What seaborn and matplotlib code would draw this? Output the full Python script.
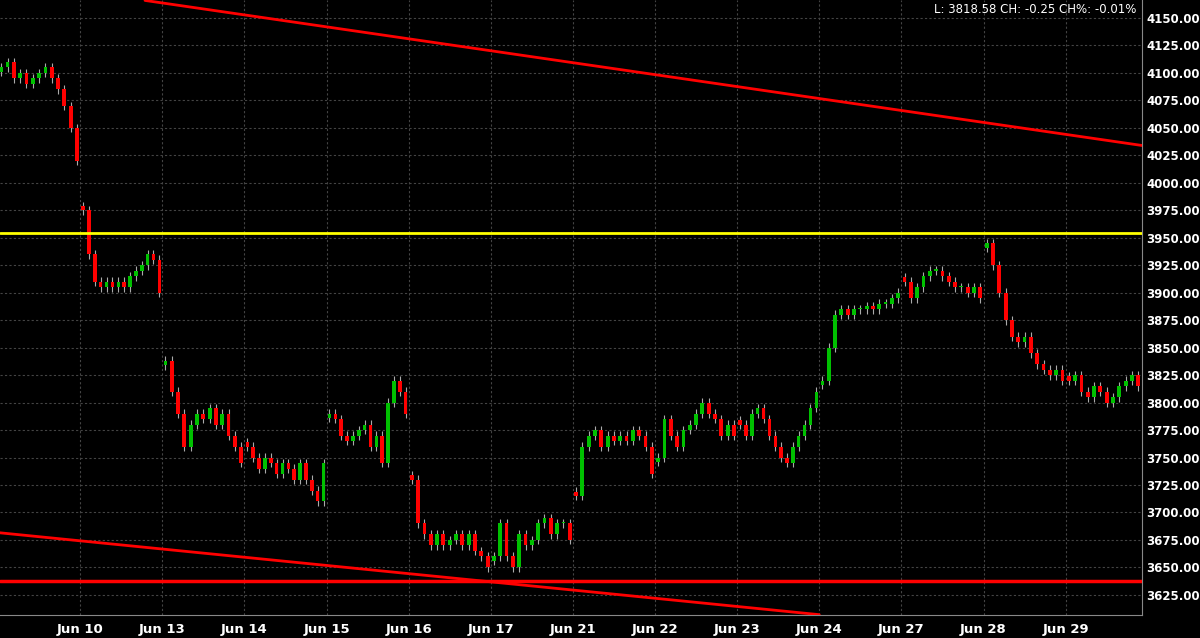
import matplotlib
matplotlib.use("Agg")
import matplotlib.pyplot as plt
import seaborn as sns
import numpy as np

sns.set_style("dark")
plt.rcParams['font.family'] = ['DejaVu Sans']

day_labels = ["Jun 10","Jun 13","Jun 14","Jun 15","Jun 16","Jun 17","Jun 21",
              "Jun 22","Jun 23","Jun 24","Jun 27","Jun 28","Jun 29"]
# closes per session (first value = session open)
d0 = [4105,4110,4095,4100,4090,4095,4100,4105,4095,4085,4070,4050,4020]
d1 = [3975,3935,3910,3905,3910,3905,3910,3905,3915,3920,3925,3935,3930,3900]
d2 = [3838,3810,3790,3760,3780,3790,3785,3795,3780,3790,3770,3760,3745]
d3 = [3760,3750,3740,3750,3745,3735,3745,3740,3730,3745,3730,3720,3710,3745]
d4 = [3790,3785,3770,3765,3770,3775,3780,3760,3770,3745,3800,3820,3810,3790]
d5 = [3730,3690,3680,3670,3680,3670,3675,3680,3670,3680,3665,3660,3650]
d6 = [3660,3690,3660,3650,3680,3670,3675,3690,3695,3680,3690,3690,3675]
d7 = [3715,3760,3770,3775,3760,3770,3765,3770,3765,3775,3770,3760,3735]
d8 = [3750,3785,3770,3760,3775,3780,3790,3800,3790,3785,3770,3780,3770]
d9 = [3780,3770,3790,3795,3785,3770,3760,3750,3745,3760,3770,3780,3795,3810]
d10 = [3820,3850,3880,3885,3880,3885,3885,3888,3885,3890,3890,3895,3900]
d11 = [3910,3895,3905,3915,3920,3920,3915,3910,3905,3905,3900,3905,3895]
d12 = [3945,3925,3900,3875,3860,3855,3860,3845,3835,3830,3825,3830,3820]
d13 = [3820,3825,3810,3805,3815,3810,3800,3805,3815,3820,3825,3815,3819]
days = [d0,d1,d2,d3,d4,d5,d6,d7,d8,d9,d10,d11,d12,d13]

top_line = ([0.79, 12.93], [4166, 4034])
low_line = ([-0.976, 9.0], [3681.5, 3607])
yellow_level = 3954
red_level = 3637.5

fig = plt.figure(figsize=(12, 6.38), dpi=100)
fig.patch.set_facecolor("black")
ax = fig.add_axes([0, 1-615/638, 1142/1200, 615/638])
ax.set_facecolor("black")

for di, closes in enumerate(days):
    n = len(closes)
    start = di - 1
    w = 1.0 / n
    prev = closes[0] + (4 if di % 2 else -4)
    for k, c in enumerate(closes):
        o = prev
        x = start + (k + 0.5) * w
        hi = max(o, c) + 4
        lo = min(o, c) - 4
        col = "#00c000" if c >= o else "#ff0000"
        ax.vlines(x, lo, hi, color="#aaaaaa", lw=0.8, zorder=2)
        ax.bar(x, max(abs(c - o), 1.2), bottom=min(o, c), width=w*0.6,
               color=col, zorder=3, linewidth=0)
        prev = c

ax.plot(*top_line, color="#ff0000", lw=2, zorder=4)
ax.plot(*low_line, color="#ff0000", lw=2, zorder=4)
ax.axhline(yellow_level, color="#ffff00", lw=2, zorder=4)
ax.axhline(red_level, color="#ff0000", lw=2.5, zorder=4)

ax.set_xlim(-0.976, 12.93)
ax.set_ylim(3606.7, 4166.4)
ax.set_xticks(range(13))
ax.set_xticklabels(day_labels, color="white", fontweight="bold", fontsize=9.5)
yt = np.arange(3625, 4151, 25)
ax.set_yticks(yt)
ax.set_yticklabels([f"{v:.2f}" for v in yt], color="white", fontweight="bold", fontsize=8.5)
ax.yaxis.tick_right()
ax.tick_params(axis="y", length=0, pad=3)
ax.tick_params(axis="x", length=0, pad=6)
ax.grid(True, color="#444444", linestyle=(0, (2, 2)), lw=0.8)
for s in ax.spines.values():
    s.set_visible(False)
ax.spines['bottom'].set_visible(True)
ax.spines['right'].set_visible(True)
ax.spines['bottom'].set_color("#888888")
ax.spines['right'].set_color("#888888")
ax.text(0.995, 0.995, "L: 3818.58 CH: -0.25 CH%: -0.01%", transform=ax.transAxes,
        ha="right", va="top", color="white", fontsize=8.5)
fig.savefig("out.png", facecolor="black")
